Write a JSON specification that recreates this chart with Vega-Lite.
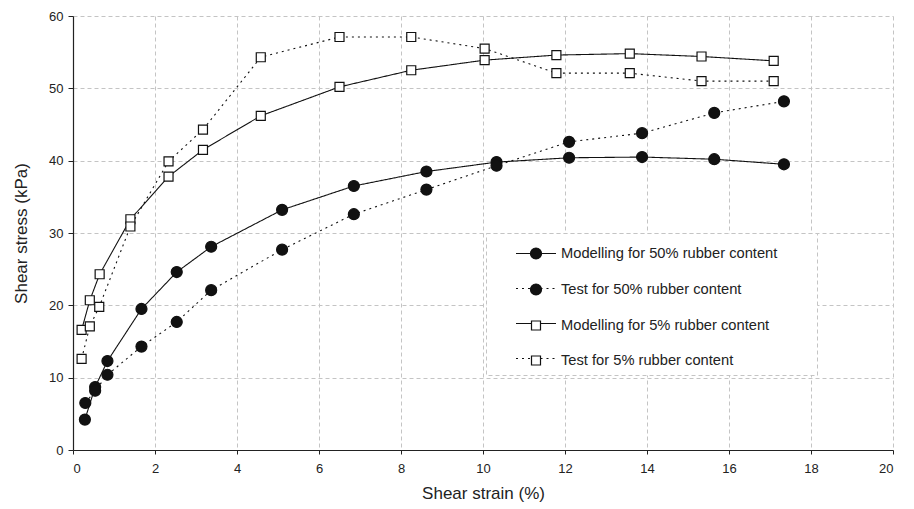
{
  "$schema": "https://vega.github.io/schema/vega-lite/v6.json",
  "width": 820,
  "height": 434,
  "autosize": {"type": "none"},
  "padding": {"left": 73, "top": 16, "right": 21, "bottom": 59},
  "background": "white",
  "config": {
    "font": "Liberation Sans",
    "view": {"stroke": null},
    "axis": {
      "labelFont": "Liberation Sans",
      "titleFont": "Liberation Sans",
      "labelFontSize": 13,
      "titleFontSize": 17,
      "titleFontWeight": "normal",
      "labelColor": "#222",
      "titleColor": "#222",
      "domainColor": "#222",
      "tickColor": "#222",
      "domainWidth": 1.2,
      "tickWidth": 1,
      "gridColor": "#c4c4c4",
      "gridDash": [4, 3],
      "gridWidth": 1
    }
  },
  "data": {
    "values": [
      {"series": "Modelling for 50% rubber content", "x": 0.29, "y": 4.2},
      {"series": "Modelling for 50% rubber content", "x": 0.54, "y": 8.7},
      {"series": "Modelling for 50% rubber content", "x": 0.84, "y": 12.3},
      {"series": "Modelling for 50% rubber content", "x": 1.67, "y": 19.5},
      {"series": "Modelling for 50% rubber content", "x": 2.53, "y": 24.6},
      {"series": "Modelling for 50% rubber content", "x": 3.37, "y": 28.1},
      {"series": "Modelling for 50% rubber content", "x": 5.1, "y": 33.2},
      {"series": "Modelling for 50% rubber content", "x": 6.85, "y": 36.5},
      {"series": "Modelling for 50% rubber content", "x": 8.62, "y": 38.5},
      {"series": "Modelling for 50% rubber content", "x": 10.33, "y": 39.8},
      {"series": "Modelling for 50% rubber content", "x": 12.1, "y": 40.4},
      {"series": "Modelling for 50% rubber content", "x": 13.88, "y": 40.5},
      {"series": "Modelling for 50% rubber content", "x": 15.64, "y": 40.2},
      {"series": "Modelling for 50% rubber content", "x": 17.34, "y": 39.5},
      {"series": "Test for 50% rubber content", "x": 0.3, "y": 6.5},
      {"series": "Test for 50% rubber content", "x": 0.54, "y": 8.2},
      {"series": "Test for 50% rubber content", "x": 0.84, "y": 10.4},
      {"series": "Test for 50% rubber content", "x": 1.67, "y": 14.3},
      {"series": "Test for 50% rubber content", "x": 2.53, "y": 17.7},
      {"series": "Test for 50% rubber content", "x": 3.37, "y": 22.1},
      {"series": "Test for 50% rubber content", "x": 5.1, "y": 27.7},
      {"series": "Test for 50% rubber content", "x": 6.85, "y": 32.6},
      {"series": "Test for 50% rubber content", "x": 8.62, "y": 36.0},
      {"series": "Test for 50% rubber content", "x": 10.33, "y": 39.3},
      {"series": "Test for 50% rubber content", "x": 12.1, "y": 42.6},
      {"series": "Test for 50% rubber content", "x": 13.88, "y": 43.8},
      {"series": "Test for 50% rubber content", "x": 15.64, "y": 46.6},
      {"series": "Test for 50% rubber content", "x": 17.34, "y": 48.2},
      {"series": "Modelling for 5% rubber content", "x": 0.21, "y": 16.6},
      {"series": "Modelling for 5% rubber content", "x": 0.41, "y": 20.7},
      {"series": "Modelling for 5% rubber content", "x": 0.65, "y": 24.3},
      {"series": "Modelling for 5% rubber content", "x": 1.4, "y": 31.9},
      {"series": "Modelling for 5% rubber content", "x": 2.33, "y": 37.8},
      {"series": "Modelling for 5% rubber content", "x": 3.17, "y": 41.5},
      {"series": "Modelling for 5% rubber content", "x": 4.58, "y": 46.2},
      {"series": "Modelling for 5% rubber content", "x": 6.5, "y": 50.2},
      {"series": "Modelling for 5% rubber content", "x": 8.25, "y": 52.5},
      {"series": "Modelling for 5% rubber content", "x": 10.04, "y": 53.9},
      {"series": "Modelling for 5% rubber content", "x": 11.79, "y": 54.6},
      {"series": "Modelling for 5% rubber content", "x": 13.58, "y": 54.8},
      {"series": "Modelling for 5% rubber content", "x": 15.33, "y": 54.4},
      {"series": "Modelling for 5% rubber content", "x": 17.09, "y": 53.8},
      {"series": "Test for 5% rubber content", "x": 0.21, "y": 12.6},
      {"series": "Test for 5% rubber content", "x": 0.41, "y": 17.1},
      {"series": "Test for 5% rubber content", "x": 0.64, "y": 19.8},
      {"series": "Test for 5% rubber content", "x": 1.4, "y": 30.9},
      {"series": "Test for 5% rubber content", "x": 2.33, "y": 39.9},
      {"series": "Test for 5% rubber content", "x": 3.17, "y": 44.3},
      {"series": "Test for 5% rubber content", "x": 4.58, "y": 54.3},
      {"series": "Test for 5% rubber content", "x": 6.5, "y": 57.1},
      {"series": "Test for 5% rubber content", "x": 8.25, "y": 57.1},
      {"series": "Test for 5% rubber content", "x": 10.04, "y": 55.5},
      {"series": "Test for 5% rubber content", "x": 11.79, "y": 52.1},
      {"series": "Test for 5% rubber content", "x": 13.58, "y": 52.1},
      {"series": "Test for 5% rubber content", "x": 15.33, "y": 51.0},
      {"series": "Test for 5% rubber content", "x": 17.09, "y": 51.0}
    ]
  },
  "encoding": {
    "x": {
      "field": "x",
      "type": "quantitative",
      "scale": {"domain": [0, 20], "nice": false},
      "axis": {
        "title": "Shear strain (%)",
        "values": [0, 2, 4, 6, 8, 10, 12, 14, 16, 18, 20],
        "tickSize": 4,
        "labelPadding": 8,
        "titlePadding": 10
      }
    },
    "y": {
      "field": "y",
      "type": "quantitative",
      "scale": {"domain": [0, 60], "nice": false},
      "axis": {
        "title": "Shear stress (kPa)",
        "values": [0, 10, 20, 30, 40, 50, 60],
        "tickSize": 5,
        "labelPadding": 5,
        "titlePadding": 18
      }
    }
  },
  "layer": [
    {
      "mark": {"type": "line", "color": "#111", "strokeWidth": 1.1},
      "encoding": {
        "strokeDash": {
          "field": "series",
          "type": "nominal",
          "scale": {
            "domain": ["Modelling for 50% rubber content", "Test for 50% rubber content", "Modelling for 5% rubber content", "Test for 5% rubber content"],
            "range": [[1, 0], [2, 4], [1, 0], [2, 4]]
          },
          "legend": {
            "orient": "none",
            "legendX": 413,
            "legendY": 217,
            "title": null,
            "zindex": 0,
            "fillColor": "white",
            "strokeColor": "#c4c4c4",
            "symbolType": "M-2,0H-0.45M0.45,0H2",
            "symbolSize": 400,
            "symbolStrokeColor": "#111",
            "symbolStrokeWidth": 1.1,
            "symbolFillColor": "transparent",
            "labelExpr": "' '",
            "labelFontSize": 14.7,
            "labelFont": "Liberation Sans",
            "labelLimit": 400,
            "padding": 9.5,
            "symbolOffset": 29.5,
            "labelOffset": 260,
            "rowPadding": 17,
            "encoding": {
              "legend": {
                "strokeDash": {"value": [4, 3]}
              }
            }
          }
        }
      }
    },
    {
      "mark": {"type": "point", "filled": true, "stroke": "#111", "strokeWidth": 1.2, "size": 400, "opacity": 1},
      "encoding": {
        "shape": {
          "field": "series",
          "type": "nominal",
          "sort": ["Modelling for 50% rubber content", "Test for 50% rubber content", "Modelling for 5% rubber content", "Test for 5% rubber content"],
          "scale": {
            "range": [
              "M-0.55,0A0.55,0.55 0 1,0 0.55,0A0.55,0.55 0 1,0 -0.55,0Z",
              "M-0.55,0A0.55,0.55 0 1,0 0.55,0A0.55,0.55 0 1,0 -0.55,0Z",
              "M-0.45,-0.45H0.45V0.45H-0.45Z",
              "M-0.45,-0.45H0.45V0.45H-0.45Z"
            ]
          },
          "legend": null
        },
        "fill": {
          "field": "series",
          "type": "nominal",
          "sort": ["Modelling for 50% rubber content", "Test for 50% rubber content", "Modelling for 5% rubber content", "Test for 5% rubber content"],
          "scale": {"range": ["#111", "#111", "white", "white"]},
          "legend": {
            "orient": "none",
            "legendX": 413,
            "legendY": 217,
            "title": null,
            "zindex": 1,
            "symbolType": "M-0.55,0A0.55,0.55 0 1,0 0.55,0A0.55,0.55 0 1,0 -0.55,0Z",
            "symbolSize": 400,
            "symbolStrokeColor": "#111",
            "symbolStrokeWidth": 1.2,
            "labelFontSize": 14.7,
            "labelFont": "Liberation Sans",
            "labelColor": "#222",
            "labelLimit": 400,
            "padding": 9.5,
            "symbolOffset": 29.5,
            "labelOffset": 14,
            "rowPadding": 17,
            "encoding": {
              "symbols": {
                "shape": {"value": {"expr": "indexof(datum.value, '5%') >= 0 ? 'M-0.45,-0.45H0.45V0.45H-0.45Z' : 'M-0.55,0A0.55,0.55 0 1,0 0.55,0A0.55,0.55 0 1,0 -0.55,0Z'"}}
              }
            }
          }
        }
      }
    }
  ]
}
